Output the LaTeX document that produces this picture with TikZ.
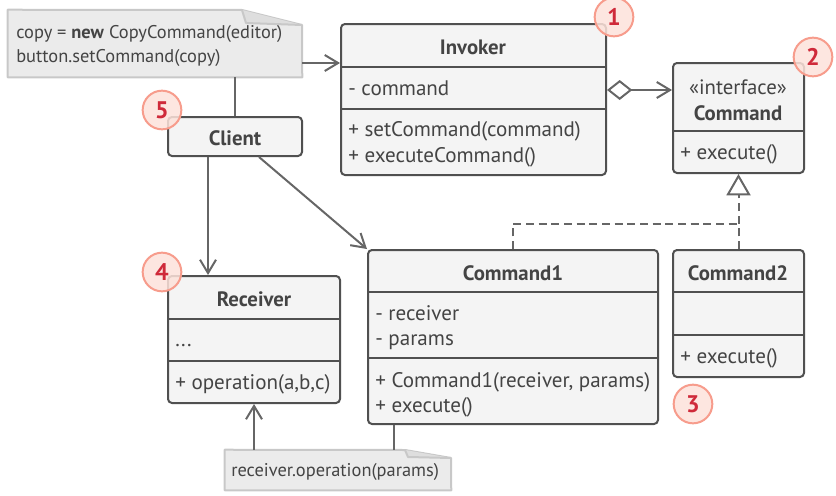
\documentclass[tikz,border=0pt]{standalone}
\usepackage{fontspec}
\setmainfont{PT Sans}
\usetikzlibrary{arrows.meta, fit}

\definecolor{boxfill}{HTML}{F4F4F4}
\definecolor{boxline}{HTML}{505050}
\definecolor{txt}{HTML}{444444}
\definecolor{connline}{HTML}{666666}
\definecolor{notefill}{HTML}{EBEBEB}
\definecolor{noteline}{HTML}{C8C8C8}
\definecolor{notefold}{HTML}{DEDEDE}
\definecolor{badgefill}{HTML}{FDE2DA}
\definecolor{badgeline}{HTML}{F79C8C}
\definecolor{badgetext}{HTML}{CF2A3A}

\tikzset{
    classbox/.style={draw=boxline, fill=boxfill, line width=1.5pt, rounded corners=3pt, inner sep=0pt},
    divider/.style={draw=boxline, line width=1.5pt},
    classname/.style={font=\fontsize{15.6}{18}\selectfont\bfseries, text=txt, inner sep=0pt},
    member/.style={font=\fontsize{15.8}{18}\selectfont, text=txt, anchor=west, inner sep=0pt, text height=0.72em, text depth=0.2em},
    notebox/.style={draw=noteline, fill=notefill, line width=1.5pt, line join=round},
    notetext/.style={font=\fontsize{13.8}{16}\selectfont, text=txt, anchor=west, inner sep=0pt, text height=0.72em, text depth=0.2em},
    conn/.style={draw=connline, line width=1.5pt},
    badge/.style={circle, draw=badgeline, fill=badgefill, fill opacity=0.85, text opacity=1, line width=1.5pt, minimum size=29pt, inner sep=0pt, font=\fontsize{18}{20}\selectfont\bfseries, text=badgetext}
}

\begin{document}
\begin{tikzpicture}[x=0.75pt, y=-0.75pt, >={Straight Barb[length=10pt, width=12pt]}]
    \useasboundingbox (0,0) rectangle (836,496);

    % Note with client code
    \node [fit={(8,10) (302,77)}, inner sep=0pt] (note1) {};
    \draw [notebox] (note1.south west) -- (note1.north west) -- (242,10) -- (302,25) -- (note1.south east) -- cycle;
    \draw [notebox, fill=notefold] (242,10) -- (246,23) -- (302,25);
    \node [notetext] at (16,35) {copy = \textbf{new} CopyCommand(editor)};
    \node [notetext] at (16,59) {button.setCommand(copy)};

    % Invoker
    \node [classbox, fit={(341,24) (606,175)}] (invoker) {};
    \draw [divider] (341,67) -- (606,67);
    \draw [divider] (341,109) -- (606,109);
    \node [classname] at (473,47) {Invoker};
    \node [member] at (348,92) {- command};
    \node [member] at (348,133) {+ setCommand(command)};
    \node [member] at (348,159) {+ executeCommand()};

    % Command interface
    \node [classbox, fit={(673,63) (804,173)}] (command) {};
    \draw [divider] (673,131) -- (804,131);
    \node [classname, font=\fontsize{15.6}{18}\selectfont] at (738,87) {«interface»};
    \node [classname] at (738,113) {Command};
    \node [member] at (680,156) {+ execute()};

    % Client
    \node [classbox, fit={(168,117) (302,156)}] (client) {};
    \node [classname] at (235,138) {Client};

    % Receiver
    \node [classbox, fit={(168,276) (340,403)}] (receiver) {};
    \draw [divider] (168,319) -- (340,319);
    \draw [divider] (168,361) -- (340,361);
    \node [classname] at (254,299) {Receiver};
    \node [member] at (175,343) {...};
    \node [member] at (175,386) {+ operation(a,b,c)};

    % Command1
    \node [classbox, fit={(368,250) (658,424)}] (command1) {};
    \draw [divider] (368,292) -- (658,292);
    \draw [divider] (368,358) -- (658,358);
    \node [classname] at (513,273) {Command1};
    \node [member] at (375,317) {- receiver};
    \node [member] at (375,342) {- params};
    \node [member] at (375,384) {+ Command1(receiver, params)};
    \node [member] at (375,409) {+ execute()};

    % Command2
    \node [classbox, fit={(673,250) (804,377)}] (command2) {};
    \draw [divider] (673,292) -- (804,292);
    \draw [divider] (673,335) -- (804,335);
    \node [classname] at (738,273) {Command2};
    \node [member] at (680,360) {+ execute()};

    % Note with receiver call
    \node [fit={(225,450) (451,490)}, inner sep=0pt] (note2) {};
    \draw [notebox] (note2.south west) -- (note2.north west) -- (405,450) -- (451,458) -- (note2.south east) -- cycle;
    \draw [notebox, fill=notefold] (405,450) -- (408,457) -- (451,458);
    \node [notetext] at (231,473) {receiver.operation(params)};

    % Connectors
    \draw [conn, ->] (note1.east |- 0,63) -- (invoker.west |- 0,63);
    \draw [conn] (note1.south -| client.north) -- (client.north);
    \draw [conn, {Diamond[open, length=19pt, width=15pt]}->] (invoker.east |- 0,90) -- (command.west |- 0,90);
    \draw [conn, dash pattern=on 6pt off 3.5pt, -{Triangle[open, length=16pt, width=18pt]}] (command2.north) -- (command.south);
    \draw [conn, dash pattern=on 6pt off 3.5pt] (command1.north) |- (command.south |- 0,224);
    \draw [conn, ->] (client.south -| 208,0) -- (receiver.north -| 208,0);
    \draw [conn, ->] (client.south -| 259,0) -- (command1.north west);
    \draw [conn, ->] (receiver.south |- note2.north) -- (receiver.south);
    \draw [conn] (command1.south -| 394,0) -- (note2.north -| 394,0);

    % Numbered badges
    \node [badge] (b1) at (614,17) {1};
    \node [badge] (b2) at (813,57) {2};
    \node [badge] (b3) at (693,404) {3};
    \node [badge] (b4) at (162,272) {4};
    \node [badge] (b5) at (162,110) {5};

\end{tikzpicture}
\end{document}
